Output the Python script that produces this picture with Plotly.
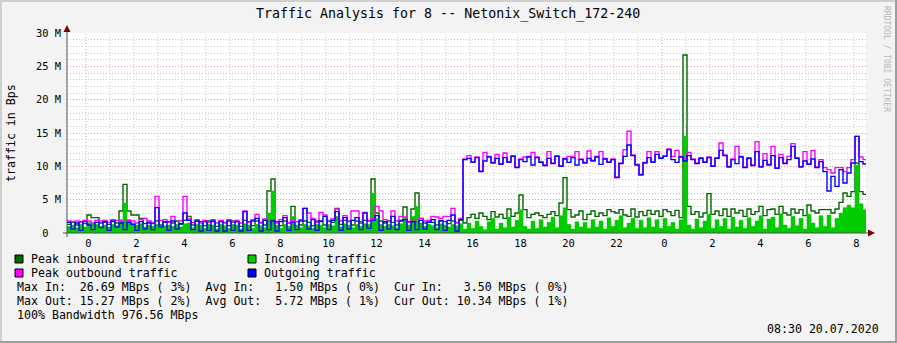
import plotly.graph_objects as go

# ---------------- data (values in MBps) ----------------
title_text = "Traffic Analysis for 8 -- Netonix_Switch_172-240"
start_hour = -0.7917        # hours relative to midnight 19.07 (≈23:12 on 18.07)
step_hours = 1.0 / 6.0      # 10 minute consolidation step

peak_in = [
    1.3, 1.6, 1.2, 1.7, 1.4, 2.7, 2.3, 2.3, 1.5, 1.6,
    1.3, 1.7, 1.5, 3.3, 7.3, 3.3, 2.7, 2.7, 2.2, 1.4,
    1.7, 1.4, 1.8, 1.2, 1.6, 1.7, 1.5, 1.8, 1.3, 1.9,
    2.5, 1.2, 1.8, 1.7, 1.1, 1.8, 1.7, 1.0, 1.8, 1.6,
    1.1, 1.8, 1.7, 1.0, 1.9, 1.7, 1.1, 1.8, 1.6, 1.2,
    6.3, 8.1, 1.7, 1.1, 1.8, 1.5, 4.0, 1.7, 1.2, 1.8,
    1.6, 1.1, 1.8, 1.7, 1.2, 1.8, 1.6, 3.7, 1.3, 1.9,
    1.7, 1.2, 1.8, 1.5, 1.9, 1.8, 8.1, 3.0, 1.8, 1.5,
    1.8, 1.6, 1.2, 1.9, 3.9, 1.7, 3.6, 6.0, 2.2, 1.5,
    1.8, 1.6, 1.2, 1.9, 1.7, 1.4, 1.8, 1.6, 1.9,
    1.5, 2.3, 2.8, 2.2, 3.0, 2.5, 2.0, 3.2, 2.4, 2.8,
    2.2, 3.6, 2.5, 3.0, 5.7, 3.5, 2.3, 2.8, 3.0, 2.6,
    2.3, 2.8, 3.2, 2.6, 4.5, 8.3, 3.5, 2.4, 2.7, 3.3,
    2.0, 2.8, 3.3, 2.5, 3.0, 2.6, 3.5, 3.2, 3.0, 3.5,
    2.7, 2.5, 3.6, 2.4, 3.2, 2.6, 3.4, 2.8, 3.3, 2.5,
    3.5, 3.2, 2.6, 3.4, 2.3, 26.69, 4.0, 2.8, 3.2, 2.4,
    3.0, 5.9, 2.8, 3.3, 2.6, 3.6, 2.5, 3.6, 3.0, 3.4,
    2.5, 3.6, 2.8, 3.2, 4.0, 2.6, 3.5, 3.6, 2.8, 4.0,
    3.0, 2.7, 3.6, 3.0, 3.5, 2.6, 4.2, 3.3, 3.0, 3.5,
    3.5, 3.5, 3.0, 3.6, 4.6, 6.0, 5.5, 6.2, 10.5, 6.2, 5.8,
]
in_avg = [
    1.0, 1.2, 0.8, 1.3, 0.9, 1.6, 1.5, 1.3, 1.0, 1.2,
    0.9, 1.3, 1.1, 2.0, 4.5, 2.0, 1.5, 1.2, 1.4, 0.9,
    1.2, 1.0, 1.3, 0.8, 1.1, 1.2, 1.0, 1.3, 0.9, 1.4,
    1.5, 0.8, 1.3, 1.2, 0.7, 1.3, 1.2, 0.6, 1.3, 1.1,
    0.7, 1.3, 1.2, 0.6, 1.4, 1.2, 0.7, 1.3, 1.1, 0.8,
    3.0, 6.3, 1.2, 0.7, 1.3, 1.0, 2.5, 1.2, 0.8, 1.3,
    1.1, 0.7, 1.3, 1.2, 0.8, 1.3, 1.1, 2.5, 0.9, 1.4,
    1.2, 0.8, 1.3, 1.0, 1.4, 1.3, 6.0, 2.2, 1.3, 1.0,
    1.3, 1.1, 0.8, 1.4, 2.3, 1.2, 2.5, 4.0, 1.5, 1.0,
    1.3, 1.1, 0.8, 1.4, 1.2, 0.9, 1.3, 1.1, 1.4,
    0.6, 1.5, 0.7, 1.8, 1.0, 0.5, 1.7, 2.2, 0.6, 1.5,
    0.8, 2.4, 0.9, 1.9, 3.5, 1.0, 0.6, 1.8, 0.7, 2.0,
    0.9, 1.6, 2.4, 0.8, 2.6, 3.8, 1.3, 0.6, 1.7, 0.9,
    1.6, 0.7, 2.0, 0.9, 1.8, 0.6, 2.3, 1.0, 1.9, 2.6,
    0.8, 1.5, 2.2, 0.7, 1.9, 0.8, 2.3, 0.9, 2.0, 0.7,
    2.2, 1.0, 1.6, 0.6, 2.0, 14.5, 1.2, 0.6, 2.1, 0.8,
    1.8, 2.8, 0.7, 2.0, 1.0, 2.2, 0.6, 2.4, 0.9, 1.9,
    0.7, 2.3, 1.0, 1.8, 2.6, 0.6, 2.1, 2.4, 0.8, 2.9,
    1.2, 0.7, 2.5, 1.1, 2.2, 0.6, 2.8, 1.5, 0.8, 2.6,
    1.0, 2.7, 0.8, 2.2, 3.0, 3.8, 4.2, 3.8, 10.2, 4.4, 3.5,
]
peak_out = [
    1.8, 1.7, 1.8, 1.6, 1.9, 1.8, 1.5, 1.9, 1.8, 1.9,
    1.6, 2.0, 1.9, 1.8, 1.7, 1.9, 1.8, 1.5, 2.0, 2.2,
    1.8, 1.6, 5.5, 1.9, 2.0, 1.6, 2.5, 1.7, 1.8, 5.5,
    2.1, 1.6, 2.0, 1.5, 1.9, 1.6, 2.0, 1.5, 1.9, 1.5,
    2.0, 1.6, 1.9, 1.5, 3.3, 1.6, 2.0, 2.8, 1.5, 2.1,
    1.7, 2.0, 1.5, 2.0, 2.6, 1.6, 1.9, 1.7, 2.0, 3.7,
    3.0, 2.2, 1.6, 3.1, 2.7, 1.7, 2.1, 3.6, 1.8, 2.6,
    1.8, 3.3, 3.3, 1.7, 3.1, 1.9, 2.2, 4.0, 3.3, 2.0,
    1.7, 3.3, 1.8, 2.5, 2.4, 1.6, 2.0, 1.7, 2.2, 1.8,
    1.9, 2.5, 2.4, 2.2, 2.5, 2.5, 3.7, 1.5, 2.2,
    11.1, 11.6, 10.7, 11.4, 9.3, 12.1, 11.5, 10.6, 11.8, 10.4,
    12.0, 10.7, 11.6, 9.9, 11.1, 11.4, 11.5, 12.1, 11.4, 10.7,
    10.2, 12.2, 10.5, 11.6, 10.1, 11.2, 11.5, 11.4, 12.2, 11.1,
    10.6, 12.3, 10.9, 11.5, 12.2, 11.2, 10.7, 11.1, 8.4, 10.5,
    12.5, 15.27, 11.7, 10.3, 8.8, 10.6, 12.2, 10.7, 12.2, 11.3,
    11.6, 12.6, 11.5, 12.4, 11.5, 11.2, 12.1, 11.1, 10.5, 11.3,
    10.7, 11.4, 10.1, 11.3, 13.5, 11.7, 10.0, 11.1, 13.0, 11.5,
    9.9, 11.3, 10.2, 13.7, 10.0, 11.9, 10.3, 13.0, 9.8, 11.8,
    10.5, 11.5, 13.4, 11.3, 10.0, 12.2, 10.4, 12.4, 9.9, 11.0,
    9.8, 9.5, 9.0, 9.8, 9.8, 9.2, 9.8, 11.0, 14.5, 11.4, 11.0,
]
out_avg = [
    1.6, 0.6, 1.5, 0.4, 1.7, 1.2, 0.5, 1.6, 0.8, 1.7,
    0.4, 1.8, 0.9, 1.5, 0.5, 1.6, 1.3, 0.4, 1.7, 0.6,
    1.5, 0.5, 3.8, 0.9, 1.7, 0.4, 1.8, 0.6, 1.4, 3.0,
    1.9, 0.5, 1.8, 0.3, 1.7, 0.4, 1.8, 0.3, 1.7, 0.3,
    1.8, 0.4, 1.7, 0.3, 3.2, 0.4, 1.8, 2.2, 0.3, 1.9,
    0.5, 1.8, 0.3, 1.7, 2.3, 0.4, 1.6, 0.5, 1.8, 3.7,
    0.6, 2.0, 0.4, 1.8, 2.5, 0.5, 1.9, 3.2, 0.4, 2.3,
    0.6, 1.9, 2.3, 0.5, 3.0, 0.7, 1.9, 2.6, 0.4, 1.7,
    0.6, 2.5, 0.5, 1.8, 2.0, 0.4, 1.7, 0.5, 1.9, 0.6,
    1.6, 2.0, 0.5, 1.8, 0.4, 1.9, 2.7, 0.3, 2.0,
    11.0, 11.2, 10.6, 11.3, 9.2, 10.8, 11.4, 10.5, 11.2, 10.3,
    11.3, 10.6, 11.5, 9.8, 11.0, 10.7, 11.4, 10.2, 11.3, 10.6,
    10.1, 11.2, 10.4, 11.5, 10.0, 11.1, 10.6, 11.3, 10.2, 11.0,
    10.5, 11.2, 10.8, 11.4, 10.3, 11.1, 10.6, 11.0, 8.3, 10.4,
    11.5, 13.2, 11.6, 10.2, 8.7, 10.5, 11.3, 10.6, 11.8, 11.2,
    11.5, 12.5, 11.0, 10.6, 11.4, 10.8, 11.6, 11.0, 10.4, 11.2,
    10.6, 11.3, 10.0, 11.2, 12.4, 11.6, 9.9, 11.0, 10.4, 11.4,
    9.8, 11.2, 10.1, 12.2, 9.9, 10.9, 10.2, 11.6, 9.7, 11.3,
    10.4, 11.0, 13.0, 11.2, 9.9, 10.8, 10.3, 11.1, 9.8, 10.7,
    9.2, 6.3, 8.5, 7.0, 9.5, 7.5, 9.0, 10.5, 14.5, 10.7, 10.34,
]

y_tick_vals = [0, 5, 10, 15, 20, 25, 30]
y_tick_text = ["0\u00a0\u00a0", "5 M", "10 M", "15 M", "20 M", "25 M", "30 M"]
x_tick_vals = list(range(0, 33, 2))
x_tick_text = ["0", "2", "4", "6", "8", "10", "12", "14", "16", "18", "20", "22",
               "0", "2", "4", "6", "8"]

legend_items = [
    ("Peak inbound traffic", "#006600", 15, 259),
    ("Incoming traffic", "#00CC00", 248, 259),
    ("Peak outbound traffic", "#FF00FF", 15, 273),
    ("Outgoing traffic", "#0000FF", 248, 273),
]
stat_lines = [
    "Max In:  26.69 MBps ( 3%)  Avg In:   1.50 MBps ( 0%)  Cur In:   3.50 MBps ( 0%)",
    "Max Out: 15.27 MBps ( 2%)  Avg Out:  5.72 MBps ( 1%)  Cur Out: 10.34 MBps ( 1%)",
    "100% Bandwidth 976.56 MBps",
]
timestamp_text = "08:30 20.07.2020"

# ---------------- geometry ----------------
W, H = 897, 343
PL, PR, PT, PB = 67, 866, 33, 233
MONO = "DejaVu Sans Mono"
LABEL_SHIFT = 0.1   # x tick labels sit slightly right of the hour lines


def pxx(x):
    return (x - PL) / (PR - PL)


def pxy(y):
    return (PB - y) / (PB - PT)


def nb(s):
    return s.replace(" ", "\u00a0")


n = len(out_avg)
times = [start_hour + i * step_hours for i in range(n + 1)]


def ext(v):
    return list(v) + [v[-1]]


fig = go.Figure()
fig.add_trace(go.Scatter(x=times, y=ext(peak_in), mode="lines", line_shape="hv",
                         line=dict(color="#006600", width=1.4), name="Peak inbound traffic"))
fig.add_trace(go.Scatter(x=times, y=ext(in_avg), mode="lines", line_shape="hv",
                         line=dict(color="#00CC00", width=0.5), fill="tozeroy",
                         fillcolor="#00CC00", name="Incoming traffic"))
fig.add_trace(go.Scatter(x=times, y=ext(peak_out), mode="lines", line_shape="hv",
                         line=dict(color="#FF00FF", width=1.4), name="Peak outbound traffic"))
fig.add_trace(go.Scatter(x=times, y=ext(out_avg), mode="lines", line_shape="hv",
                         line=dict(color="#0000FF", width=1.4), name="Outgoing traffic"))

shapes = []
# vertical hour grid
for h in range(0, 33):
    major = (h % 24 == 0)
    shapes.append(dict(type="line", xref="x", yref="paper", x0=h, x1=h, y0=0, y1=1,
                       layer="below",
                       line=dict(color="#E89A9A" if major else "#C8C8C8", width=1,
                                 dash="1px,2px")))
# axes
shapes.append(dict(type="line", xref="paper", yref="paper", x0=pxx(63), x1=pxx(870),
                   y0=pxy(233), y1=pxy(233), line=dict(color="#505050", width=1)))
shapes.append(dict(type="line", xref="paper", yref="paper", x0=pxx(67), x1=pxx(67),
                   y0=pxy(237), y1=pxy(29), line=dict(color="#505050", width=1)))
# arrows
shapes.append(dict(type="path", xref="paper", yref="paper",
                   path=f"M {pxx(67)} {pxy(25)} L {pxx(63.5)} {pxy(32)} L {pxx(70.5)} {pxy(32)} Z",
                   fillcolor="#7F0000", line=dict(color="#7F0000", width=0)))
shapes.append(dict(type="path", xref="paper", yref="paper",
                   path=f"M {pxx(875)} {pxy(233)} L {pxx(868)} {pxy(229.5)} L {pxx(868)} {pxy(236.5)} Z",
                   fillcolor="#7F0000", line=dict(color="#7F0000", width=0)))
# frame
shapes.append(dict(type="line", xref="paper", yref="paper", x0=pxx(0), x1=pxx(897),
                   y0=pxy(1), y1=pxy(1), line=dict(color="#CFCFCF", width=2)))
shapes.append(dict(type="line", xref="paper", yref="paper", x0=pxx(1), x1=pxx(1),
                   y0=pxy(0), y1=pxy(343), line=dict(color="#CFCFCF", width=2)))
shapes.append(dict(type="line", xref="paper", yref="paper", x0=pxx(0), x1=pxx(897),
                   y0=pxy(342), y1=pxy(342), line=dict(color="#9E9E9E", width=2)))
shapes.append(dict(type="line", xref="paper", yref="paper", x0=pxx(896), x1=pxx(896),
                   y0=pxy(0), y1=pxy(343), line=dict(color="#9E9E9E", width=2)))

annotations = []
# legend squares and labels
for label, color, sx, sy in legend_items:
    shapes.append(dict(type="rect", xref="paper", yref="paper",
                       x0=pxx(sx), x1=pxx(sx + 8), y0=pxy(sy - 4), y1=pxy(sy + 4),
                       fillcolor=color, line=dict(color="#000000", width=1)))
    annotations.append(dict(text=nb(label), xref="paper", yref="paper", x=pxx(sx + 14),
                            y=pxy(sy), xanchor="left", yanchor="middle", showarrow=False,
                            font=dict(family=MONO, size=11.6, color="#000000")))
for k, line in enumerate(stat_lines):
    annotations.append(dict(text=nb(line), xref="paper", yref="paper", x=pxx(15),
                            y=pxy(287 + 14 * k), xanchor="left", yanchor="middle",
                            showarrow=False,
                            font=dict(family=MONO, size=11.6, color="#000000")))
annotations.append(dict(text=nb(timestamp_text), xref="paper", yref="paper", x=pxx(881),
                        y=pxy(329), xanchor="right", yanchor="middle", showarrow=False,
                        font=dict(family=MONO, size=11.6, color="#000000")))
annotations.append(dict(text=nb(title_text), xref="paper", yref="paper", x=pxx(448),
                        y=pxy(14), xanchor="center", yanchor="middle", showarrow=False,
                        font=dict(family=MONO, size=13.3, color="#000000")))
annotations.append(dict(text=nb("traffic in Bps"), xref="paper", yref="paper", x=pxx(11),
                        y=pxy(133), xanchor="center", yanchor="middle", showarrow=False,
                        textangle=-90,
                        font=dict(family=MONO, size=11.6, color="#000000")))
annotations.append(dict(text=nb("RRDTOOL / TOBI OETIKER"), xref="paper", yref="paper",
                        x=pxx(887), y=pxy(59), xanchor="center", yanchor="middle",
                        showarrow=False, textangle=90,
                        font=dict(family=MONO, size=8, color="#B8B8B8")))

fig.update_layout(
    width=W, height=H, autosize=False,
    margin=dict(l=PL, r=W - PR, t=PT, b=H - PB, pad=0),
    paper_bgcolor="#F3F3F3", plot_bgcolor="#FFFFFF",
    showlegend=False,
    shapes=shapes, annotations=annotations,
    font=dict(family=MONO, size=10.4, color="#000000"),
    xaxis=dict(range=[start_hour, start_hour + (PR - PL) / 24.0],
               tickvals=[v + LABEL_SHIFT for v in x_tick_vals],
               ticktext=x_tick_text, showgrid=False, zeroline=False, showline=False,
               ticks="", ticklabelstandoff=3,
               tickfont=dict(family=MONO, size=10.4, color="#000000")),
    yaxis=dict(range=[0, 30], tickvals=y_tick_vals, ticktext=y_tick_text,
               showgrid=True, gridcolor="#E89A9A", griddash="1px,2px", gridwidth=1,
               zeroline=False, showline=False, ticks="", ticklabelstandoff=5,
               tickfont=dict(family=MONO, size=10.4, color="#000000"),
               minor=dict(dtick=1, showgrid=True, gridcolor="#C8C8C8",
                          griddash="1px,2px", gridwidth=1)),
)

fig.write_html("out.html")
